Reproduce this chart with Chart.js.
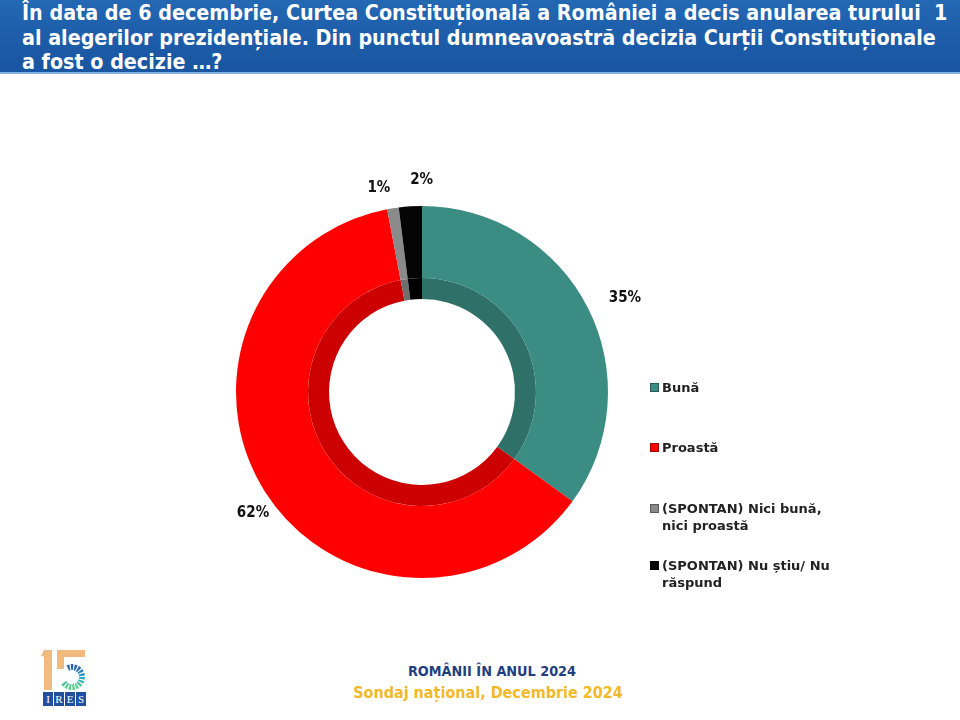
<!DOCTYPE html>
<html lang="ro">
<head>
<meta charset="UTF-8">
<title>Decizia Curții Constituționale</title>
<style>
  html, body { margin: 0; padding: 0; background: #fff; }
  #page { position: relative; width: 960px; height: 720px; overflow: hidden; font-family: "DejaVu Sans", sans-serif; }
  #titlebar {
    position: absolute; left: 0; top: 0; width: 960px; height: 72px;
    background: linear-gradient(180deg, #2468b4 0%, #1c5ba7 60%, #1a56a0 100%);
    border-bottom: 2px solid #7fb0e0;
  }
  #title {
    position: absolute; left: 22px; top: 1px; margin: 0;
    font-family: "DejaVu Sans Condensed", "DejaVu Sans", sans-serif; font-weight: bold;
    font-size: 21.3px; line-height: 24.5px; color: #fff; white-space: pre;
  }
  #chartBox { position: absolute; left: 172px; top: 142px; width: 500px; height: 500px; }
  .leg { position: absolute; left: 650px; font-weight: bold; font-size: 13px; line-height: 17px; color: #222; }
  .leg i { position: absolute; left: 0; top: 4px; width: 7px; height: 7px; border: 1px solid rgba(0,0,0,0.35); }
  .leg span { display: block; margin-left: 12px; white-space: pre; }
  #foot1, #foot2 {
    position: absolute; width: 984px; text-align: center;
    font-family: "DejaVu Sans Condensed", "DejaVu Sans", sans-serif; font-weight: bold;
  }
  #foot1 { left: 0; top: 663px; color: #1f3f80; font-size: 14.3px; }
  #foot2 { left: -4px; top: 683px; color: #f2b92a; font-size: 16px; }
  #logo { position: absolute; left: 40px; top: 646px; }
</style>
</head>
<body>
<div id="page">
  <div id="titlebar">
    <p id="title">În data de 6 decembrie, Curtea Constituțională a României a decis anularea turului  1
al alegerilor prezidențiale. Din punctul dumneavoastră decizia Curții Constituționale
a fost o decizie …?</p>
  </div>

  <div id="chartBox"><canvas id="myChart"></canvas></div>
  <div id="legend"></div>

  <svg id="logo" width="52" height="62" viewBox="0 0 52 62">
    <defs>
      <linearGradient id="ring" x1="0" y1="0" x2="0" y2="1">
        <stop offset="0" stop-color="#2a62b0"/>
        <stop offset="0.5" stop-color="#28a9c8"/>
        <stop offset="1" stop-color="#5fd08a"/>
      </linearGradient>
    </defs>
    <rect x="4" y="4" width="8" height="40" fill="#f1bb7f"/>
    <polygon points="1,10 4,4 12,4 12,12" fill="#f1bb7f"/>
    <rect x="17" y="4" width="28" height="7" fill="#f1bb7f"/>
    <rect x="17" y="4" width="7" height="19" fill="#f1bb7f"/>
    <path d="M 27.8 22 A 10 10 0 1 1 23.3 36" fill="none" stroke="url(#ring)" stroke-width="6" stroke-dasharray="2.2 1.1"/>
    <g font-family="Liberation Serif, serif" font-size="11" fill="#fff" text-anchor="middle">
      <rect x="3" y="46" width="10" height="14" fill="#1f4f9e"/>
      <rect x="14" y="46" width="10" height="14" fill="#1f4f9e"/>
      <rect x="25" y="46" width="10" height="14" fill="#1f4f9e"/>
      <rect x="36" y="46" width="10" height="14" fill="#1f4f9e"/>
      <text x="8" y="57">I</text><text x="19" y="57">R</text><text x="30" y="57">E</text><text x="41" y="57">S</text>
    </g>
  </svg>

  <div id="foot1">ROMÂNII ÎN ANUL 2024</div>
  <div id="foot2">Sondaj național, Decembrie 2024</div>
</div>

<script src="https://cdn.jsdelivr.net/npm/chart.js"></script>
<script>
  // date
  const v_labels = ['Bună', 'Proastă', '(SPONTAN) Nici bună, nici proastă', '(SPONTAN) Nu știu/ Nu răspund'];
  const v_legendLines = [['Bună'], ['Proastă'], ['(SPONTAN) Nici bună,', 'nici proastă'], ['(SPONTAN) Nu știu/ Nu', 'răspund']];
  const v_values = [35, 62, 1, 2];

  const v_colors = ['#3b8c82', '#ff0000', '#8a8a8a', '#050505'];
  const v_shade = ['#2f7169', '#cc0000', '#6e6e6e', '#000000'];

  // legenda (HTML)
  const v_legTops = [379, 439, 500, 557];
  let v_leg = document.getElementById('legend');
  for (let i = 0; i < v_labels.length; i++) {
    let d = document.createElement('div');
    d.className = 'leg';
    d.style.top = v_legTops[i] + 'px';
    d.innerHTML = '<i style="background:' + v_colors[i] + '"></i><span>' + v_legendLines[i].join('\n') + '</span>';
    v_leg.appendChild(d);
  }

  // etichete procente in afara inelului
  const v_nudge = [[14, 2], [10, 8], [-10, 5], [13, 0]];
  const pctLabels = {
    id: 'pctLabels',
    afterDatasetsDraw(chart) {
      const ctx = chart.ctx;
      const meta = chart.getDatasetMeta(0);
      ctx.save();
      ctx.font = 'bold 15px "DejaVu Sans Condensed", "DejaVu Sans", sans-serif';
      ctx.fillStyle = '#111';
      ctx.textAlign = 'center';
      ctx.textBaseline = 'middle';
      meta.data.forEach((arc, i) => {
        const mid = (arc.startAngle + arc.endAngle) / 2;
        const r = arc.outerRadius + 26;
        const x = arc.x + Math.cos(mid) * r + v_nudge[i][0];
        const y = arc.y + Math.sin(mid) * r + v_nudge[i][1];
        ctx.fillText(v_values[i] + '%', x, y);
      });
      ctx.restore();
    }
  };

  const ctx = document.getElementById('myChart');
  new Chart(ctx, {
    type: 'doughnut',
    data: {
      labels: v_labels,
      datasets: [{
        data: v_values,
        backgroundColor: v_colors,
        borderWidth: 0,
        weight: 72
      }, {
        data: v_values,
        backgroundColor: v_shade,
        borderWidth: 0,
        weight: 21
      }]
    },
    options: {
      responsive: true,
      maintainAspectRatio: false,
      animation: false,
      cutout: '50%',
      layout: { padding: 64 },
      plugins: {
        legend: { display: false },
        tooltip: { enabled: false }
      }
    },
    plugins: [pctLabels]
  });
</script>
</body>
</html>
